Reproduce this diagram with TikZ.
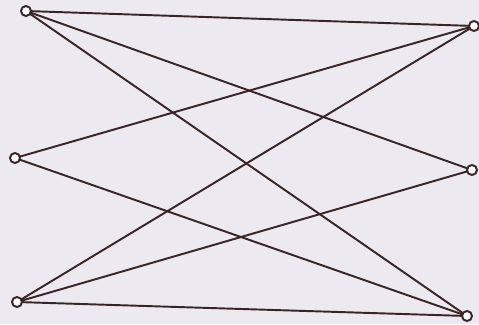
\documentclass[tikz,border=0pt]{standalone}
\usepackage{tikz}
\usetikzlibrary{positioning}
\definecolor{edgecol}{RGB}{58,36,36}
\definecolor{paper}{RGB}{236,233,240}

\begin{document}
\begin{tikzpicture}[x=0.02cm, y=-0.02cm,
    vertex/.style={circle, draw=edgecol, fill=white, line width=1.1pt, inner sep=0pt, minimum size=0.2cm},
    edge/.style={draw=edgecol, line width=1.1pt}]
    % Page
    \fill[paper] (0,0) rectangle (479,324);
    \useasboundingbox (0,0) rectangle (479,324);

    % Vertices
    \coordinate (l1) at (26, 11);
    \coordinate (l2) at (15, 158);
    \coordinate (l3) at (17, 302);
    \coordinate (r1) at (474, 26);
    \coordinate (r2) at (472, 170);
    \coordinate (r3) at (467, 316);

    % Edges
    \foreach \a/\b in {l1/r1, l1/r2, l1/r3, l2/r1, l2/r3, l3/r1, l3/r2, l3/r3}
        \draw[edge] (\a) -- (\b);

    % Circles on top
    \foreach \v in {l1, l2, l3, r1, r2, r3}
        \node[vertex] (\v-dot) at (\v) {};
\end{tikzpicture}
\end{document}
